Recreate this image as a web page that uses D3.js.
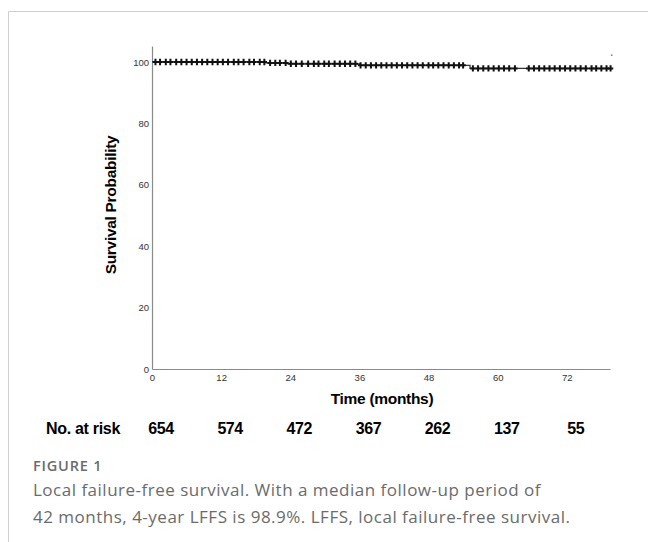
<!DOCTYPE html>
<html>
<head>
<meta charset="utf-8">
<script src="https://cdn.jsdelivr.net/npm/d3@7"></script>
<style>
  body { margin: 0; background: #fff; }
  svg { display: block; }
</style>
</head>
<body>
<script>
// survival steps: [month, survival %]
const steps = [[0, 100], [19.8, 99.7], [23.6, 99.4], [36, 98.9], [55.2, 97.9], [79.4, 97.9]];
// censored observations (months)
const censors = [0.6, 1.4, 2.4, 3.2, 4.2, 5.1, 6.0, 6.9, 7.8, 8.7, 9.6, 10.5, 11.4, 12.3, 13.2,
  14.2, 15.0, 15.9, 16.9, 17.7, 18.7, 19.5, 20.5, 21.4, 22.2, 23.2, 24.1, 25.0, 26.0, 27.1,
  28.1, 28.9, 29.9, 30.7, 31.7, 32.6, 33.5, 34.4, 35.3, 36.2, 37.1, 38.0, 38.9, 39.8, 40.7,
  41.6, 42.5, 43.4, 44.3, 45.2, 46.1, 47.0, 48.0, 48.8, 49.7, 50.6, 51.5, 52.4, 53.3, 54.0,
  55.7, 56.6, 57.5, 58.4, 59.3, 60.2, 61.1, 62.0, 63.0, 65.4, 66.3, 67.2, 68.1, 69.0, 69.9,
  70.8, 71.7, 72.6, 73.5, 74.4, 75.3, 76.3, 77.1, 78.0, 78.9, 79.6];
const strayMark = [79.8, 102.2];
const xTicks = [0, 12, 24, 36, 48, 60, 72];
const yTicks = [0, 20, 40, 60, 80, 100];
const atRisk = [654, 574, 472, 367, 262, 137, 55];

const W = 648, H = 542;
const svg = d3.select("body").append("svg").attr("width", W).attr("height", H);

// card border
svg.append("path")
  .attr("d", `M8.5,${H} V11.5 H${W}`)
  .attr("fill", "none").attr("stroke", "#cfcfcf").attr("stroke-width", 1);

const x = d3.scaleLinear().domain([0, 79.5]).range([152, 610]);
const y = d3.scaleLinear().domain([0, 105.2]).range([369, 46]);

const axisColor = "#8a8a8a";
const tickFont = "'Liberation Sans', Arial, sans-serif";

// x axis
const gx = svg.append("g").attr("transform", "translate(0,369)")
  .call(d3.axisBottom(x).tickValues(xTicks).tickSize(0).tickPadding(5));
gx.select(".domain").attr("stroke", axisColor).attr("stroke-width", 1.2);
gx.selectAll("text").attr("font-family", tickFont).attr("font-size", 9.5).attr("fill", "#333");

// y axis
const gy = svg.append("g").attr("transform", "translate(152,0)")
  .call(d3.axisLeft(y).tickValues(yTicks).tickSize(0).tickPadding(3));
gy.select(".domain").attr("stroke", axisColor).attr("stroke-width", 1.2);
gy.selectAll("text").attr("font-family", tickFont).attr("font-size", 9.5).attr("fill", "#333");

// step curve
const line = d3.line().x(d => x(d[0])).y(d => y(d[1])).curve(d3.curveStepAfter);
svg.append("path").datum(steps)
  .attr("d", line).attr("fill", "none").attr("stroke", "#333").attr("stroke-width", 1.3);

// survival at a given time
function survAt(t) {
  let s = steps[0][1];
  for (const st of steps) if (st[0] <= t) s = st[1];
  return s;
}

svg.append("g").selectAll("path").data(censors).join("path")
  .attr("d", d => {
    const cx = x(d), cy = y(survAt(d));
    return `M${cx - 2.7},${cy} H${cx + 2.7} M${cx},${cy - 3.2} V${cy + 3.2}`;
  })
  .attr("stroke", "#111").attr("stroke-width", 2).attr("fill", "none");

svg.append("circle")
  .attr("cx", x(strayMark[0])).attr("cy", y(strayMark[1]))
  .attr("r", 0.9).attr("fill", "#888");

// axis titles
svg.append("text")
  .attr("transform", `translate(116,205) rotate(-90)`)
  .attr("text-anchor", "middle")
  .attr("font-family", tickFont).attr("font-weight", "bold").attr("font-size", 15.5)
  .attr("letter-spacing", -0.3)
  .text("Survival Probability");

svg.append("text")
  .attr("x", 382).attr("y", 404)
  .attr("text-anchor", "middle")
  .attr("font-family", tickFont).attr("font-weight", "bold").attr("font-size", 15.5)
  .attr("letter-spacing", -0.3)
  .text("Time (months)");

// number at risk
svg.append("text")
  .attr("x", 46).attr("y", 434)
  .attr("font-family", tickFont).attr("font-weight", "bold").attr("font-size", 16)
  .attr("letter-spacing", -0.3)
  .text("No. at risk");

svg.append("g").selectAll("text").data(atRisk).join("text")
  .attr("x", (d, i) => x(xTicks[i]) + 9)
  .attr("y", 434)
  .attr("text-anchor", "middle")
  .attr("font-family", tickFont).attr("font-weight", "bold").attr("font-size", 16)
  .attr("letter-spacing", -0.4)
  .text(d => d);

// caption
const capFont = "'Open Sans', Lato, sans-serif";
svg.append("text")
  .attr("x", 33).attr("y", 471)
  .attr("font-family", capFont).attr("font-weight", 600).attr("font-size", 14.5)
  .attr("letter-spacing", 0.8)
  .attr("fill", "#6b6b6b")
  .text("FIGURE 1");

const capLines = [
  "Local failure-free survival. With a median follow-up period of",
  "42 months, 4-year LFFS is 98.9%. LFFS, local failure-free survival."
];
svg.append("g").selectAll("text").data(capLines).join("text")
  .attr("x", 33).attr("y", (d, i) => 496 + i * 27)
  .attr("font-family", capFont).attr("font-size", 17)
  .attr("letter-spacing", 0.5)
  .attr("fill", "#6b6b6b")
  .text(d => d);
</script>
</body>
</html>
